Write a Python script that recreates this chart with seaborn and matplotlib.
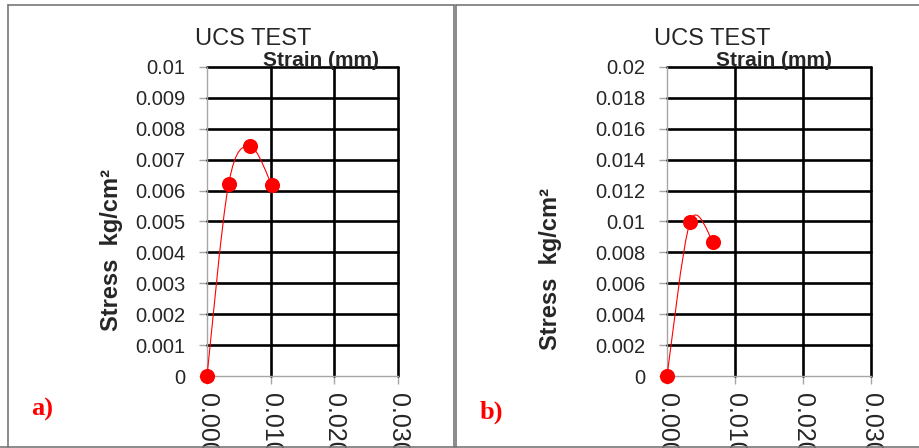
import numpy as np
import pandas as pd
import seaborn as sns
import matplotlib
matplotlib.use("Agg")
import matplotlib.pyplot as plt
from matplotlib.path import Path
from matplotlib.patches import PathPatch
from matplotlib.lines import Line2D

# ---- data ----
strain_a = [0.0, 0.0034, 0.0068, 0.0102]
stress_a = [0.0, 0.00622, 0.00743, 0.00617]
strain_b = [0.0, 0.0034, 0.0068]
stress_b = [0.0, 0.00998, 0.00867]

xticks = [0.0, 0.010, 0.020, 0.030]
xtick_labels = ["0.000", "0.010", "0.020", "0.030"]
yticks_a = [0, 0.001, 0.002, 0.003, 0.004, 0.005, 0.006, 0.007, 0.008, 0.009, 0.01]
ytick_labels_a = ["0", "0.001", "0.002", "0.003", "0.004", "0.005", "0.006",
                  "0.007", "0.008", "0.009", "0.01"]
yticks_b = [0, 0.002, 0.004, 0.006, 0.008, 0.010, 0.012, 0.014, 0.016, 0.018, 0.02]
ytick_labels_b = ["0", "0.002", "0.004", "0.006", "0.008", "0.01", "0.012",
                  "0.014", "0.016", "0.018", "0.02"]

title = "UCS TEST"
xlabel = "Strain (mm)"
ylabel = "Stress  kg/cm\u00b2"
panel_tags = ["a)", "b)"]

sns.set_style("white")
plt.rcParams["font.family"] = ["Liberation Sans", "DejaVu Sans"]

W, H = 920, 448
fig = plt.figure(figsize=(W / 100, H / 100), dpi=100)

RED = "#ff0000"
GRAY = "#a6a6a6"


def fx(px):
    return px / W


def fy(py):
    return 1 - py / H


def smooth_path(xs, ys):
    """Cubic Bezier path through the points (Catmull-Rom style smoothing)."""
    pts = np.column_stack([xs, ys]).astype(float)
    n = len(pts)
    verts = [pts[0]]
    codes = [Path.MOVETO]
    for i in range(n - 1):
        p_prev = pts[max(i - 1, 0)]
        p0 = pts[i]
        p1 = pts[i + 1]
        p_next = pts[min(i + 2, n - 1)]
        c1 = p0 + (p1 - p_prev) / 6.0
        c2 = p1 - (p_next - p0) / 6.0
        verts += [c1, c2, p1]
        codes += [Path.CURVE4] * 3
    return Path(verts, codes)


def draw_panel(rect_px, xs, ys, yticks, ylabels):
    x0, x1, ytop, ybot = rect_px
    ax = fig.add_axes([fx(x0), fy(ybot), fx(x1 - x0), (ybot - ytop) / H])
    ax.set_xlim(0, 0.03)
    ax.set_ylim(0, yticks[-1])
    ax.set_facecolor("none")

    # black gridlines (drawn unclipped so the border lines keep full width)
    for yv in yticks[1:]:
        ax.axhline(yv, color="black", lw=1.9, clip_on=False, zorder=1)
    for xv in xticks[1:]:
        ax.axvline(xv, color="black", lw=1.9, clip_on=False, zorder=1)

    for s in ["top", "right"]:
        ax.spines[s].set_visible(False)
    for s in ["left", "bottom"]:
        ax.spines[s].set_color(GRAY)
        ax.spines[s].set_linewidth(1.0)
        ax.spines[s].set_zorder(2)

    ax.set_xticks(xticks)
    ax.set_xticklabels(xtick_labels, rotation=-90, fontsize=18)
    ax.set_yticks(yticks)
    ax.set_yticklabels(ylabels, fontsize=14.5)
    ax.tick_params(axis="x", direction="out", length=6, width=1, color=GRAY,
                   pad=6, bottom=True)
    ax.tick_params(axis="y", direction="out", length=6, width=1, color=GRAY,
                   pad=9.4, left=True)
    for lab in ax.get_xticklabels():
        lab.set_va("top")
        lab.set_ha("center")

    # smoothed connecting line
    patch = PathPatch(smooth_path(xs, ys), facecolor="none", edgecolor=RED,
                      lw=0.8, zorder=3, clip_on=False)
    ax.add_patch(patch)

    df = pd.DataFrame({"strain": xs, "stress": ys})
    sns.scatterplot(data=df, x="strain", y="stress", ax=ax, color=RED,
                    s=118, edgecolor=RED, linewidth=0, zorder=4, clip_on=False)
    ax.set_xlabel("")
    ax.set_ylabel("")
    return ax


draw_panel((207, 398, 67, 376), strain_a, stress_a, yticks_a, ytick_labels_a)
draw_panel((667, 871, 67, 376), strain_b, stress_b, yticks_b, ytick_labels_b)

# titles, axis labels and panel tags
for tx, sx, lx, ly, gx, gy, tag in [
    (195, 263, 112, 249.5, 31, 416, panel_tags[0]),
    (654, 716, 551, 269.5, 480, 419, panel_tags[1]),
]:
    fig.text(fx(tx), fy(45), title, fontsize=17, ha="left", va="baseline")
    fig.text(fx(sx), fy(66), xlabel, fontsize=15, fontweight="bold",
             ha="left", va="baseline", zorder=10)
    fig.text(fx(lx), fy(ly), ylabel, fontsize=17, fontweight="bold",
             rotation=90, ha="center", va="center")
    fig.text(fx(gx), fy(gy), tag, fontsize=19, fontweight="bold", color=RED,
             family=["Liberation Serif", "DejaVu Serif"], ha="left", va="baseline")

# panel frames
BORDER = "#777777"
frame_lines = [
    ((8, 454), (5, 5)), ((8, 8), (5, 447)), ((454, 454), (5, 447)),
    ((456, 920), (5, 5)), ((456, 456), (5, 447)), ((0, 920), (447, 447)),
]
for xs_px, ys_px in frame_lines:
    fig.add_artist(Line2D([fx(v) for v in xs_px], [fy(v) for v in ys_px],
                          transform=fig.transFigure, color=BORDER, lw=1.2))

fig.savefig("out.png", dpi=100)
